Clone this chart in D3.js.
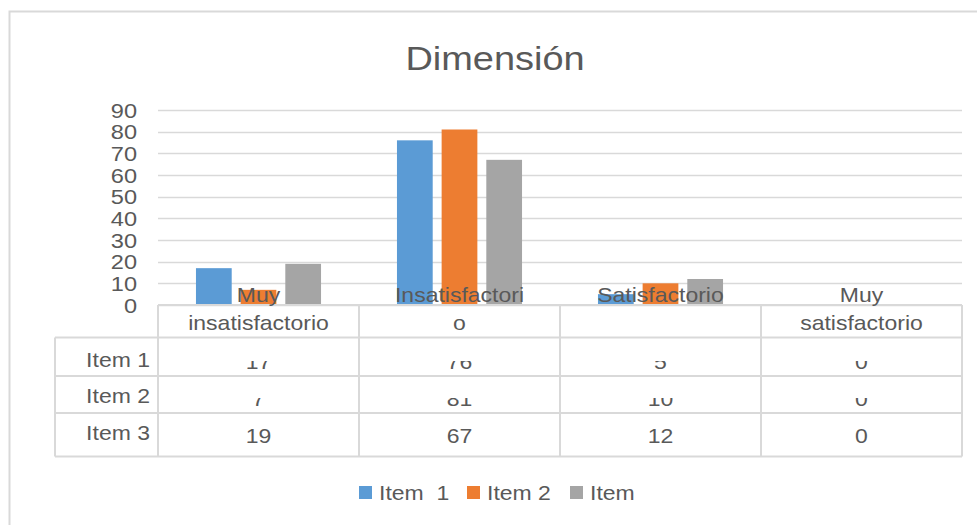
<!DOCTYPE html>
<html>
<head>
<meta charset="utf-8">
<script src="https://cdn.jsdelivr.net/npm/d3@7"></script>
<style>
  html, body { margin: 0; padding: 0; background: #fff; }
  svg { display: block; font-family: "Liberation Sans", Arial, sans-serif; }
  text { white-space: pre; }
</style>
</head>
<body>
<svg id="chart" width="977" height="525"></svg>
<script>
// Chart data
const categories = ["Muy insatisfactorio", "Insatisfactorio", "Satisfactorio", "Muy satisfactorio"];
const categoryLines = [["Muy", "insatisfactorio"], ["Insatisfactori", "o"], ["Satisfactorio"], ["Muy", "satisfactorio"]];
const seriesNames = ["Item 1", "Item 2", "Item 3"];
const legendLabels = ["Item  1", "Item 2", "Item"];
const item1 = [17, 76, 5, 0];
const item2 = [7, 81, 10, 0];
const item3 = [19, 67, 12, 0];
const yTicks = [0, 10, 20, 30, 40, 50, 60, 70, 80, 90];
const title = "Dimensión";

const seriesValues = [item1, item2, item3];
const colors = ["#5b9bd5", "#ed7d31", "#a5a5a5"];
const textColor = "#595959";
const lineColor = "#d9d9d9";
const SX = 1.15; // horizontal glyph stretch

const svg = d3.select("#chart");

function label(g, x, y, str, size, anchor) {
  return g.append("text")
    .attr("transform", `translate(${x},${y}) scale(${SX},1)`)
    .attr("text-anchor", anchor)
    .attr("font-size", size)
    .attr("fill", textColor)
    .text(str);
}

// outer frame
svg.append("rect")
  .attr("x", 9.5).attr("y", 11.5)
  .attr("width", 990).attr("height", 540)
  .attr("fill", "none").attr("stroke", lineColor).attr("stroke-width", 2);

// title
label(svg, 495, 70, title, 33, "middle");

const plotLeft = 158, plotRight = 962, plotTop = 110, plotBottom = 305;

const x0 = d3.scaleBand().domain(categories).range([plotLeft, plotRight]).paddingInner(0).paddingOuter(0);
const x1 = d3.scaleBand().domain(seriesNames).range([0, x0.bandwidth()]).paddingInner(0.2).paddingOuter(0.85);
const y = d3.scaleLinear().domain([0, 90]).range([plotBottom, plotTop]);

// gridlines
svg.append("g").selectAll("line").data(yTicks).join("line")
  .attr("x1", plotLeft).attr("x2", plotRight)
  .attr("y1", d => Math.round(y(d)) + 0.5).attr("y2", d => Math.round(y(d)) + 0.5)
  .attr("stroke", lineColor).attr("stroke-width", 1.5);

// y tick labels
const yl = svg.append("g");
yTicks.forEach(t => label(yl, 137, y(t) + 7.5, String(t), 20.5, "end"));

// bars
const barRows = [];
categories.forEach((c, ci) => {
  seriesNames.forEach((s, si) => barRows.push({ c, s, si, v: seriesValues[si][ci] }));
});
svg.append("g").selectAll("rect").data(barRows).join("rect")
  .attr("x", d => x0(d.c) + x1(d.s))
  .attr("y", d => y(d.v))
  .attr("width", x1.bandwidth())
  .attr("height", d => y(0) - y(d.v))
  .attr("fill", d => colors[d.si]);

// data table
const tableLeft = 55;
const rowLines = [337.5, 376, 413, 456.5];
const tg = svg.append("g").attr("stroke", lineColor).attr("stroke-width", 2);
tg.append("line").attr("x1", plotLeft).attr("x2", plotRight).attr("y1", plotBottom).attr("y2", plotBottom);
rowLines.forEach(r => tg.append("line").attr("x1", tableLeft).attr("x2", plotRight).attr("y1", r).attr("y2", r));
tg.append("line").attr("x1", tableLeft).attr("x2", tableLeft).attr("y1", rowLines[0]).attr("y2", rowLines[3]);
const colEdges = categories.map(c => x0(c)).concat([plotRight]);
colEdges.forEach(cx => tg.append("line").attr("x1", cx).attr("x2", cx).attr("y1", plotBottom).attr("y2", rowLines[3]));

// category headers
const hg = svg.append("g");
categories.forEach((c, ci) => {
  const cx = x0(c) + x0.bandwidth() / 2;
  categoryLines[ci].forEach((ln, li) => label(hg, cx, 302 + li * 28, ln, 20, "middle"));
});

// series names and values
const defs = svg.append("defs");
const rowBaselines = [369, 406, 443];
const rowClipTops = [361, 398, 413];
const nameBaselines = [367, 403, 440];
seriesNames.forEach((s, si) => {
  label(svg, 150, nameBaselines[si], s, 20, "end");
  const clipId = "rowclip" + si;
  defs.append("clipPath").attr("id", clipId).append("rect")
    .attr("x", plotLeft).attr("y", rowClipTops[si])
    .attr("width", plotRight - plotLeft).attr("height", rowLines[si + 1] - rowClipTops[si]);
  const vg = svg.append("g").attr("clip-path", `url(#${clipId})`);
  categories.forEach((c, ci) => {
    label(vg, x0(c) + x0.bandwidth() / 2, rowBaselines[si], String(seriesValues[si][ci]), 20, "middle");
  });
});

// legend
const legendX = [359, 467, 570];
const lg = svg.append("g");
seriesNames.forEach((s, si) => {
  lg.append("rect").attr("x", legendX[si]).attr("y", 486).attr("width", 13).attr("height", 13).attr("fill", colors[si]);
  label(lg, legendX[si] + 20, 500, legendLabels[si], 20, "start");
});
</script>
</body>
</html>
